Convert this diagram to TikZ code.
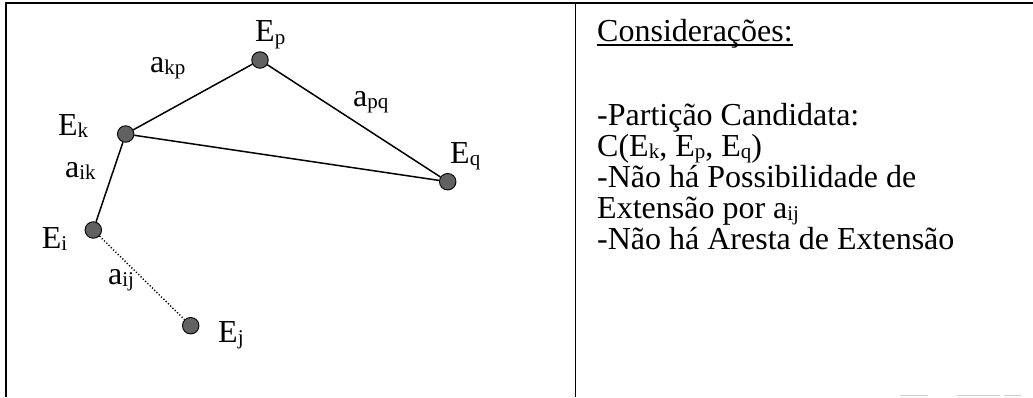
\documentclass[tikz,border=0pt]{standalone}
\usepackage{fontspec}
\setmainfont{Liberation Serif}
\newcommand\sbs[1]{\raisebox{-0.09em}{\fontsize{21}{21}\selectfont #1}}
\begin{document}
\begin{tikzpicture}[x=1pt,y=-1pt,
  vert/.style={circle,draw=black,line width=0.9pt,fill=black!62,inner sep=0pt,minimum size=16.5pt},
  edge/.style={line width=1.5pt,black},
  dotedge/.style={line width=1.4pt,black,dash pattern=on 1.2pt off 2pt},
  lbl/.style={anchor=base west,inner sep=0pt,font=\fontsize{32}{32}\selectfont},
  frame/.style={line width=1.8pt,black}]
\useasboundingbox (0,0) rectangle (1033,397);
% frame
\coordinate (tl) at (6,3);
\coordinate (tr) at (1033,3);
\coordinate (bl) at (6,397);
\coordinate (dt) at (575.5,3);
\coordinate (db) at (575.5,397);
\draw[frame] (tr) -- (tl) -- (bl);
\draw[frame] (dt) -- (db);
% faint scan marks at bottom right
\coordinate (s1a) at (900,395.5); \coordinate (s1b) at (928,395.5);
\coordinate (s2a) at (957,395.5); \coordinate (s2b) at (1000,395.5);
\coordinate (s3a) at (1004,395.5); \coordinate (s3b) at (1021,395.5);
\draw[black!18,line width=1.2pt] (s1a) -- (s1b) (s2a) -- (s2b) (s3a) -- (s3b);
% vertices
\node[vert] (Ep) at (260,60) {};
\node[vert] (Ek) at (125.7,134) {};
\node[vert] (Eq) at (447.7,181.7) {};
\node[vert] (Ei) at (93.3,230) {};
\node[vert] (Ej) at (190.7,325.7) {};
% edges
\draw[edge] (Ek) -- (Ep);
\draw[edge] (Ep) -- (Eq);
\draw[edge] (Ek) -- (Eq);
\draw[edge] (Ek) -- (Ei);
\draw[dotedge] (Ei) -- (Ej);
% labels
\node[lbl] (lEp) at (255,41.5) {E\sbs{p}};
\node[lbl] (lakp) at (150,72) {a\sbs{kp}};
\node[lbl] (lapq) at (353,106) {a\sbs{pq}};
\node[lbl] (lEk) at (58,135) {E\sbs{k}};
\node[lbl] (lEq) at (450,163) {E\sbs{q}};
\node[lbl] (laik) at (65,177) {a\sbs{ik}};
\node[lbl] (lEi) at (41.7,248) {E\sbs{i}};
\node[lbl] (laij) at (108,284) {a\sbs{ij}};
\node[lbl] (lEj) at (218,342) {E\sbs{j}};
% right text
\node[lbl] (cons) at (597,41) {Considerações:};
\draw[line width=1.3pt] ([yshift=-4pt]cons.base west) -- ([yshift=-4pt]cons.base east);
\node[lbl] (t1) at (597,125) {-Partição Candidata:};
\node[lbl] (t2) at (597,156) {C(E\sbs{k}, E\sbs{p}, E\sbs{q})};
\node[lbl] (t3) at (597,187) {-Não há Possibilidade de};
\node[lbl] (t4) at (597,218) {Extensão por a\sbs{ij}};
\node[lbl] (t5) at (597,249) {-Não há Aresta de Extensão};
\end{tikzpicture}
\end{document}
